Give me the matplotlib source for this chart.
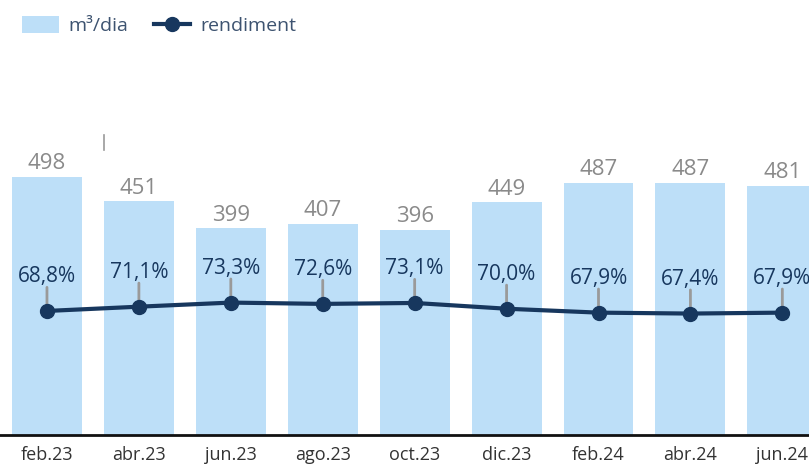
import matplotlib
matplotlib.use("Agg")
import matplotlib.pyplot as plt
from matplotlib.lines import Line2D
from matplotlib.patches import Patch

plt.rcParams["font.family"] = ["Open Sans", "DejaVu Sans"]

# Data
months = ["feb.23", "abr.23", "jun.23", "ago.23", "oct.23", "dic.23", "feb.24", "abr.24", "jun.24"]
m3_dia = [498, 451, 399, 407, 396, 449, 487, 487, 481]
rendiment = [68.8, 71.1, 73.3, 72.6, 73.1, 70.0, 67.9, 67.4, 67.9]

bar_color = "#bddff8"
line_color = "#17375e"
label_gray = "#8a8a8a"

fig = plt.figure(figsize=(8.09, 4.65), dpi=100)
ax = fig.add_axes([0, 0.0645, 1, 0.9355])
x = list(range(len(months)))

ax.bar(x, m3_dia, width=0.76, color=bar_color, zorder=1)
for xi, v in zip(x, m3_dia):
    ax.annotate(str(v), (xi, v), xytext=(0, 2), textcoords="offset points",
                ha="center", va="bottom", fontsize=16, color=label_gray)

ax.set_xlim(-0.511, 8.29)
ax.set_ylim(0, 840)
ax.set_yticks([])
ax.set_xticks(x)
ax.set_xticklabels(months, fontsize=13, color="#333333")
ax.tick_params(axis="x", length=0, pad=8)
for s in ["top", "right", "left"]:
    ax.spines[s].set_visible(False)
ax.spines["bottom"].set_linewidth(2)
ax.spines["bottom"].set_color("#111111")

# small stray tick mark
ax.plot([104 / 809, 104 / 809], [285 / 435, 300 / 435], transform=ax.transAxes,
        color="#9a9a9a", lw=1.2, clip_on=False)

ax2 = ax.twinx()
ax2.set_ylim(2.1, 236)
ax2.set_yticks([])
for s in ["top", "right", "left", "bottom"]:
    ax2.spines[s].set_visible(False)

ax2.plot(x, rendiment, color=line_color, lw=3, marker="o", markersize=10, zorder=3)
for xi, v in zip(x, rendiment):
    ax2.annotate("", xy=(xi, v), xytext=(0, 17), textcoords="offset points",
                 arrowprops=dict(arrowstyle="-", color="#9a9a9a", lw=2,
                                 shrinkA=0, shrinkB=0), zorder=2)
    ax2.annotate(f"{v:.1f}%".replace(".", ","), (xi, v), xytext=(0, 17),
                 textcoords="offset points", ha="center", va="bottom",
                 fontsize=15, color=line_color)

handles = [Patch(facecolor=bar_color, edgecolor="none"),
           Line2D([0], [0], color=line_color, lw=3, marker="o", markersize=10)]
fig.legend(handles, ["m³/dia", "rendiment"], loc="upper left",
           bbox_to_anchor=(0.01, 0.995), ncol=2, frameon=False, fontsize=14,
           labelcolor="#3d5370", handlelength=1.9, handleheight=1.0,
           handletextpad=0.5, columnspacing=1.3, borderaxespad=0.3)

fig.savefig("out.png", dpi=100)
